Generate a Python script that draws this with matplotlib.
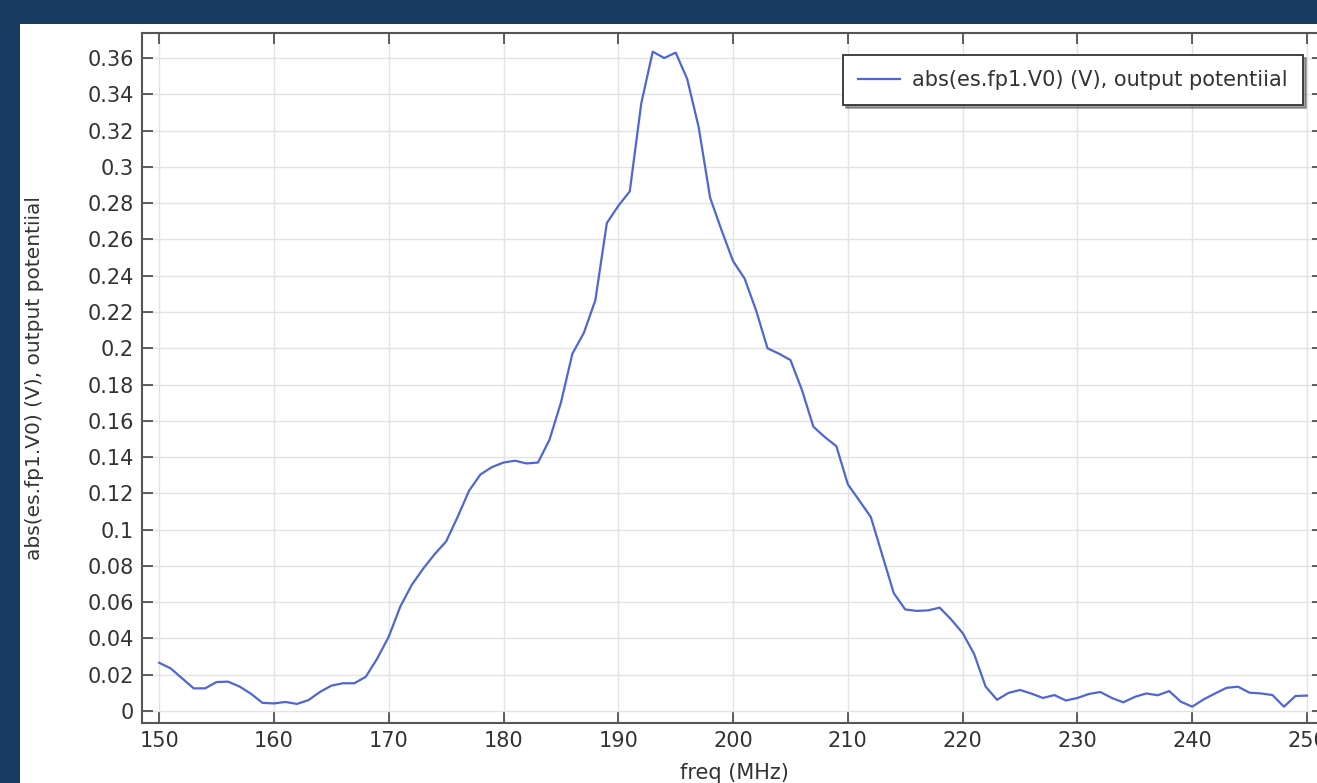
#!/usr/bin/env python3
"""Frequency response of the output potential, abs(es.fp1.V0), 150-250 MHz."""

import matplotlib

matplotlib.use("Agg")
import matplotlib.pyplot as plt
from matplotlib.patches import Rectangle
from matplotlib.ticker import FuncFormatter, MultipleLocator

# Sweep frequencies (MHz), one point per MHz
freq_mhz = list(range(150, 251))

# abs(es.fp1.V0) in volts
v0_abs = [
    0.0266, 0.0235, 0.0180, 0.0125, 0.0125, 0.0160, 0.0162, 0.0135, 0.0095, 0.0045,  # 150-159
    0.0042, 0.0050, 0.0039, 0.0060, 0.0105, 0.0140, 0.0153, 0.0153, 0.0189, 0.0290,  # 160-169
    0.0410, 0.0575, 0.0695, 0.0785, 0.0865, 0.0935, 0.1070, 0.1215, 0.1305, 0.1345,  # 170-179
    0.1370, 0.1380, 0.1365, 0.1370, 0.1495, 0.1700, 0.1970, 0.2085, 0.2265, 0.2690,  # 180-189
    0.2785, 0.2865, 0.3350, 0.3635, 0.3600, 0.3630, 0.3485, 0.3220, 0.2830, 0.2650,  # 190-199
    0.2480, 0.2385, 0.2210, 0.2000, 0.1970, 0.1935, 0.1770, 0.1567, 0.1510, 0.1460,  # 200-209
    0.1250, 0.1160, 0.1070, 0.0860, 0.0650, 0.0560, 0.0552, 0.0555, 0.0570, 0.0505,  # 210-219
    0.0430, 0.0315, 0.0135, 0.0062, 0.0100, 0.0116, 0.0096, 0.0072, 0.0088, 0.0058,  # 220-229
    0.0072, 0.0094, 0.0105, 0.0072, 0.0048, 0.0078, 0.0097, 0.0087, 0.0110, 0.0052,  # 230-239
    0.0024, 0.0064, 0.0097, 0.0128, 0.0134, 0.0101, 0.0097, 0.0088, 0.0024, 0.0083,  # 240-249
    0.0085,  # 250
]

LINE_LABEL = "abs(es.fp1.V0) (V), output potentiial"
X_LABEL = "freq (MHz)"
Y_LABEL = "abs(es.fp1.V0) (V), output potentiial"

W, H = 1317, 783
TEXT = "#333333"
AX_L, AX_R, AX_T, AX_B = 142, 1323, 33, 723  # axes box in pixels
AX_W, AX_H = AX_R - AX_L, AX_B - AX_T

fig = plt.figure(figsize=(W / 100, H / 100), dpi=100, facecolor="#173b61")
# white panel inside the dark frame, kept behind the axes
fig.patches.append(
    Rectangle((20 / W, 0), 1 - 20 / W, (H - 24) / H, transform=fig.transFigure,
              facecolor="white", edgecolor="none", zorder=-10)
)

ax = fig.add_axes([AX_L / W, (H - AX_B) / H, AX_W / W, AX_H / H])
ax.plot(freq_mhz, v0_abs, color="#4f66d4", lw=1.6, label=LINE_LABEL)

ax.set_xlim(148.5, 251.4)
ax.set_ylim(-0.0066, 0.3738)
ax.xaxis.set_major_locator(MultipleLocator(10))
ax.yaxis.set_major_locator(MultipleLocator(0.02))
ax.yaxis.set_major_formatter(FuncFormatter(lambda v, _: f"{round(v, 4):g}"))

ax.grid(True, color="#e3e3e3", lw=1.0)
ax.set_axisbelow(True)
ax.tick_params(direction="in", top=True, right=True, length=8, width=1.2,
               color="#444444", labelsize=15, labelcolor=TEXT, pad=6)
for side in ("left", "bottom", "top", "right"):
    ax.spines[side].set_color("#555555")
    ax.spines[side].set_linewidth(1.5)

ax.set_xlabel(X_LABEL, fontsize=15, color=TEXT)
ax.xaxis.set_label_coords(0.502, (AX_B - 763) / AX_H)
ax.set_ylabel(Y_LABEL, fontsize=14.5, color=TEXT)
ax.yaxis.set_label_coords((44 - AX_L) / AX_W, 0.5)

leg = ax.legend(loc="upper right",
                bbox_to_anchor=((1303 - AX_L) / AX_W, (AX_B - 55) / AX_H),
                borderaxespad=0, fontsize=15, frameon=True, fancybox=False,
                shadow=True, handlelength=2.0, borderpad=0.72, handletextpad=0.6)
leg.get_frame().set_edgecolor("#333333")
leg.get_frame().set_linewidth(1.3)
for t in leg.get_texts():
    t.set_color(TEXT)

fig.savefig("out.png", dpi=100, facecolor=fig.get_facecolor())
